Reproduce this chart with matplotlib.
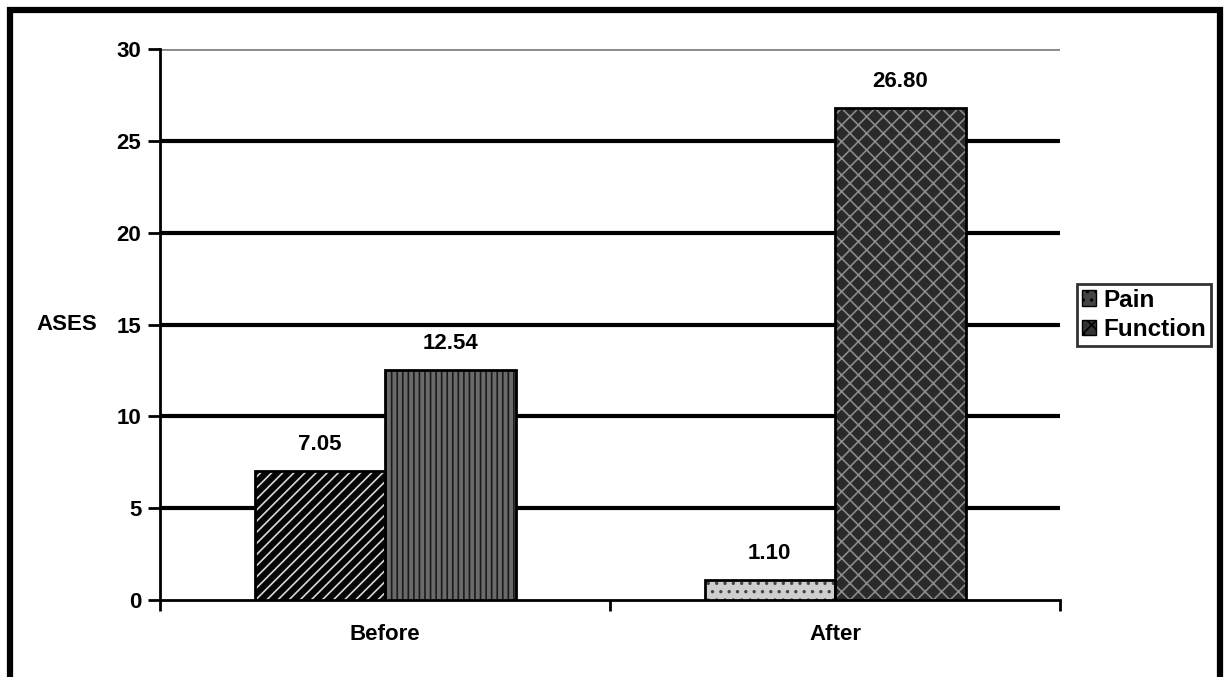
import matplotlib
matplotlib.use("Agg")
import matplotlib.pyplot as plt
from matplotlib.patches import Rectangle
import numpy as np

plt.rcParams['font.family'] = ['Liberation Sans', 'DejaVu Sans']
plt.rcParams['font.weight'] = 'bold'
plt.rcParams['hatch.linewidth'] = 1.2

categories = ["Before", "After"]
series_names = ["Pain", "Function"]
pain = [7.05, 1.10]
function = [12.54, 26.80]
value_labels_pain = ["7.05", "1.10"]
value_labels_function = ["12.54", "26.80"]
y_ticks = [0, 5, 10, 15, 20, 25, 30]

FS = 16

fig = plt.figure(figsize=(12.28, 6.77), dpi=100)
ax = fig.add_axes([0.1303, 0.1137, 0.7329, 0.8139])

x = np.arange(len(categories))
width = 0.29

# per-point fills: (face, hatch colour, hatch)
pain_styles = [("#050505", "#d8d8d8", "///"), ("#cfcfcf", "#444444", "..")]
func_styles = [("#6a6a6a", "#1a1a1a", "|||"), ("#2a2a2a", "#8a8a8a", "xx")]

for vals, styles, offset in ((pain, pain_styles, -width / 2), (function, func_styles, width / 2)):
    for xi, v, (fc, hc, h) in zip(x, vals, styles):
        ax.bar(xi + offset, v, width, color=fc, edgecolor=hc, hatch=h, linewidth=0, zorder=3)
        ax.bar(xi + offset, v, width, fill=False, edgecolor="black", linewidth=2, zorder=4)

for xi, v, lab in zip(x, pain, value_labels_pain):
    ax.text(xi - width / 2, v + 0.85, lab, ha="center", va="bottom", fontsize=FS, fontweight="bold")
for xi, v, lab in zip(x, function, value_labels_function):
    ax.text(xi + width / 2, v + 0.85, lab, ha="center", va="bottom", fontsize=FS, fontweight="bold")

ax.set_xlim(-0.5, 1.5)
ax.set_ylim(0, 30)
ax.set_yticks(y_ticks)
ax.set_yticklabels([str(t) for t in y_ticks], fontsize=FS, fontweight="bold")
for t in y_ticks[1:-1]:
    ax.axhline(t, color="black", linewidth=3, zorder=1)
ax.axhline(30, color="#888888", linewidth=2, zorder=1)

ax.set_xticks(x)
ax.set_xticklabels(categories, fontsize=FS, fontweight="bold")
ax.tick_params(axis="x", length=0, pad=17)
ax.set_xticks([-0.5, 0.5, 1.5], minor=True)
ax.tick_params(axis="x", which="minor", length=8, width=2, direction="out")
ax.tick_params(axis="y", length=8.5, width=2, direction="out", pad=5)

for side in ("top", "right"):
    ax.spines[side].set_visible(False)
ax.spines["left"].set_linewidth(2)
ax.spines["bottom"].set_linewidth(2)

ax.set_ylabel("ASES", rotation=0, fontsize=FS, fontweight="bold", ha="center", va="center")
ax.yaxis.set_label_coords(-0.103, 0.5)

# legend with pattern swatches
handles = [
    Rectangle((0, 0), 1, 1, facecolor="#444444", edgecolor="black", hatch="..", linewidth=1),
    Rectangle((0, 0), 1, 1, facecolor="#333333", edgecolor="black", hatch="xx", linewidth=1),
]
leg = fig.legend(handles, series_names, loc="center left", bbox_to_anchor=(0.877, 0.535),
                 frameon=True, fancybox=False, edgecolor="black", fontsize=17.5,
                 handlelength=0.6, handleheight=0.6, handletextpad=0.3,
                 borderpad=0.2, labelspacing=0.25, borderaxespad=0)
leg.get_frame().set_linewidth(2)

# outer frame
fig.add_artist(Rectangle((0.0085, -0.02), 0.985, 1.005, transform=fig.transFigure,
                         fill=False, edgecolor="black", linewidth=4.5, clip_on=False))

fig.savefig("out.png", dpi=100)
